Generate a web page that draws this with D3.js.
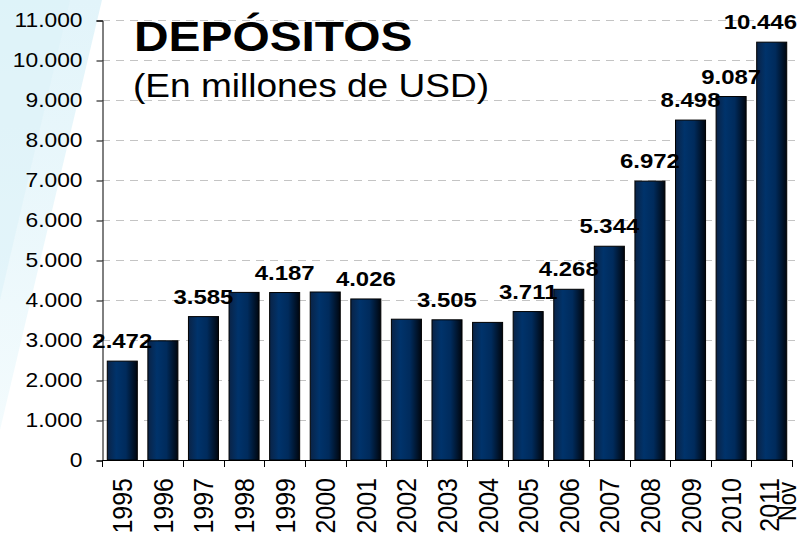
<!DOCTYPE html>
<html>
<head>
<meta charset="utf-8">
<script src="https://cdn.jsdelivr.net/npm/d3@7"></script>
<style>
  html, body { margin: 0; padding: 0; background: #fff; }
  svg { display: block; font-family: "Liberation Sans", Arial, sans-serif; }
</style>
</head>
<body>
<svg id="chart" width="810" height="533"></svg>
<script>
// data
var years = ["1995","1996","1997","1998","1999","2000","2001","2002","2003","2004","2005","2006","2007","2008","2009","2010","2011"];
var subLabels = ["","","","","","","","","","","","","","","","","Nov"];
var deposits = [2472, 2980, 3585, 4190, 4187, 4200, 4026, 3520, 3505, 3440, 3711, 4268, 5344, 6972, 8498, 9087, 10446];
var showValue = [true, false, true, false, true, false, true, false, true, false, true, true, true, true, true, true, true];
var yTicks = [0, 1000, 2000, 3000, 4000, 5000, 6000, 7000, 8000, 9000, 10000, 11000];

var stretch = 1.14; // the picture is a bit wider than tall

var svg = d3.select("#chart");
var fmt = d3.formatLocale({ decimal: ",", thousands: ".", grouping: [3], currency: ["", ""] }).format(",d");

// light blue wedge at the left
var defs = svg.append("defs");
var bg = defs.append("linearGradient").attr("id", "bg")
    .attr("x1", 0).attr("y1", 0).attr("x2", 0).attr("y2", 1);
bg.append("stop").attr("offset", "0%").attr("stop-color", "#e2f4fa");
bg.append("stop").attr("offset", "100%").attr("stop-color", "#f3fbfd");
svg.append("path").attr("d", "M0,0 L102,0 L0,430 Z").attr("fill", "url(#bg)");
svg.append("path").attr("d", "M0,0 L70,0 L0,300 Z").attr("fill", "#dcf1f8").attr("opacity", 0.6);

var bar = defs.append("linearGradient").attr("id", "bar")
    .attr("x1", 0).attr("y1", 0).attr("x2", 1).attr("y2", 0);
bar.append("stop").attr("offset", "0%").attr("stop-color", "#0a2346");
bar.append("stop").attr("offset", "30%").attr("stop-color", "#00336b");
bar.append("stop").attr("offset", "62%").attr("stop-color", "#002b5c");
bar.append("stop").attr("offset", "100%").attr("stop-color", "#00060f");

var x = d3.scaleBand().domain(years).range([102, 792]).paddingInner(0.26).paddingOuter(0.13);
var y = d3.scaleLinear().domain([0, 11000]).range([460, 20]);

// dashed grid
svg.append("g").selectAll("line")
    .data(yTicks.filter(function(d){ return d > 0; }))
    .enter().append("line")
    .attr("x1", 102).attr("x2", 795)
    .attr("y1", function(d){ return y(d) + 0.5; })
    .attr("y2", function(d){ return y(d) + 0.5; })
    .attr("stroke", "#c4c4c4").attr("stroke-width", 1)
    .attr("stroke-dasharray", "8,6");

// title
svg.append("text")
    .attr("transform", "translate(134,51) scale(" + stretch + ",1)")
    .attr("font-size", "42px").attr("font-weight", "bold").attr("fill", "#000")
    .text("DEPÓSITOS");
svg.append("text")
    .attr("transform", "translate(133,97) scale(" + stretch + ",1)")
    .attr("font-size", "32.5px").attr("fill", "#000")
    .text("(En millones de USD)");

// bars
svg.append("g").selectAll("rect")
    .data(deposits)
    .enter().append("rect")
    .attr("x", function(d, i){ return x(years[i]); })
    .attr("y", function(d){ return y(d); })
    .attr("width", x.bandwidth())
    .attr("height", function(d){ return y(0) - y(d); })
    .attr("fill", "url(#bar)")
    .attr("stroke", "#000").attr("stroke-width", 1);

// y axis
var yAxis = svg.append("g")
    .attr("transform", "translate(102.5,0.5)")
    .call(d3.axisLeft(y).tickValues(yTicks).tickSize(6).tickPadding(14).tickFormat(fmt));
yAxis.select(".domain").attr("stroke", "#000");
yAxis.selectAll(".tick line").attr("stroke", "#000");
yAxis.selectAll(".tick text")
    .attr("font-size", "20px").attr("font-family", "Liberation Sans, Arial, sans-serif")
    .attr("fill", "#000")
    .attr("x", 0)
    .attr("transform", "translate(-20,0) scale(" + stretch + ",1)");

// x axis: line plus ticks at band edges
svg.append("line").attr("x1", 102).attr("x2", 792).attr("y1", 460.5).attr("y2", 460.5)
    .attr("stroke", "#000");
var edges = years.map(function(d){ return x(d) - x.step() * x.paddingInner() / 2; });
edges.push(792);
svg.append("g").selectAll("line").data(edges).enter().append("line")
    .attr("x1", function(d){ return Math.round(d) + 0.5; })
    .attr("x2", function(d){ return Math.round(d) + 0.5; })
    .attr("y1", 460).attr("y2", 467)
    .attr("stroke", "#000");

// rotated year labels
var xl = svg.append("g");
years.forEach(function(yr, i){
    var cx = x(yr) + x.bandwidth() / 2;
    var off = subLabels[i] ? -3 : 0;
    xl.append("text")
        .attr("transform", "translate(" + (cx + off) + ",478) scale(" + stretch + ",1) rotate(-90)")
        .attr("text-anchor", "end").attr("dy", "0.35em")
        .attr("font-size", "25px").attr("fill", "#000")
        .text(yr);
    if (subLabels[i]) {
        xl.append("text")
            .attr("transform", "translate(" + (cx + 16) + ",482) scale(" + stretch + ",1) rotate(-90)")
            .attr("text-anchor", "end").attr("dy", "0.35em")
            .attr("font-size", "22px").attr("fill", "#000")
            .text(subLabels[i]);
    }
});

// value labels, kept inside the right edge
svg.append("g").selectAll("text")
    .data(deposits.map(function(d, i){ return { v: d, yr: years[i], show: showValue[i] }; })
        .filter(function(d){ return d.show; }))
    .enter().append("text")
    .attr("text-anchor", "middle")
    .attr("font-size", "21px").attr("font-weight", "bold").attr("fill", "#000")
    .text(function(d){ return fmt(d.v); })
    .attr("transform", function(d){
        var w = this.getComputedTextLength() * stretch;
        var cx = Math.min(x(d.yr) + x.bandwidth() / 2, 797 - w / 2);
        return "translate(" + cx + "," + (y(d.v) - 13) + ") scale(" + stretch + ",1)";
    });
</script>
</body>
</html>
